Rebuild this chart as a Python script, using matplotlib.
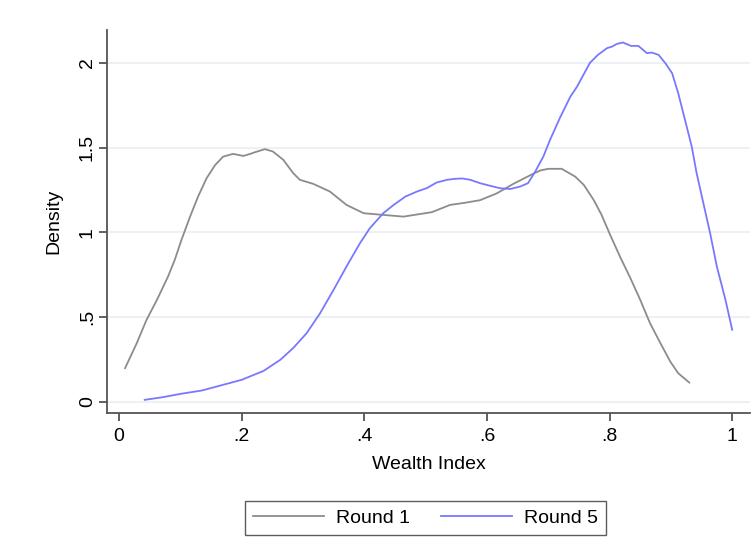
import matplotlib
matplotlib.use("Agg")
import matplotlib.pyplot as plt

plt.rcParams["font.family"] = ["Liberation Sans", "DejaVu Sans"]

# kernel density curves
round1_x = [0.010, 0.029, 0.045, 0.062, 0.080, 0.091, 0.102, 0.116, 0.129, 0.143,
            0.157, 0.170, 0.186, 0.203, 0.214, 0.222, 0.238, 0.251, 0.268, 0.284,
            0.295, 0.317, 0.344, 0.371, 0.399, 0.431, 0.464, 0.510, 0.540, 0.565,
            0.589, 0.616, 0.643, 0.675, 0.687, 0.700, 0.722, 0.744, 0.758, 0.774,
            0.787, 0.801, 0.817, 0.834, 0.850, 0.866, 0.883, 0.899, 0.912, 0.930]
round1_y = [0.199, 0.346, 0.484, 0.602, 0.739, 0.838, 0.956, 1.093, 1.211, 1.320,
            1.398, 1.447, 1.463, 1.451, 1.463, 1.473, 1.491, 1.477, 1.428, 1.350,
            1.310, 1.286, 1.241, 1.162, 1.113, 1.103, 1.093, 1.119, 1.162, 1.175,
            1.190, 1.230, 1.286, 1.345, 1.365, 1.375, 1.375, 1.329, 1.280, 1.192,
            1.103, 0.985, 0.857, 0.730, 0.602, 0.464, 0.346, 0.238, 0.169, 0.114]

round5_x = [0.042, 0.072, 0.100, 0.135, 0.165, 0.200, 0.236, 0.263, 0.284, 0.306,
            0.328, 0.350, 0.371, 0.393, 0.409, 0.431, 0.448, 0.467, 0.486, 0.502,
            0.518, 0.535, 0.548, 0.560, 0.573, 0.589, 0.605, 0.622, 0.638, 0.654,
            0.667, 0.679, 0.692, 0.703, 0.719, 0.736, 0.747, 0.768, 0.781, 0.796,
            0.804, 0.812, 0.822, 0.835, 0.847, 0.861, 0.869, 0.880, 0.891, 0.902,
            0.912, 0.923, 0.934, 0.942, 0.953, 0.964, 0.975, 0.989, 1.000]
round5_y = [0.012, 0.028, 0.047, 0.067, 0.096, 0.130, 0.183, 0.248, 0.317, 0.405,
            0.523, 0.661, 0.798, 0.936, 1.024, 1.113, 1.162, 1.211, 1.241, 1.261,
            1.294, 1.310, 1.316, 1.318, 1.310, 1.290, 1.275, 1.260, 1.256, 1.270,
            1.290, 1.360, 1.447, 1.546, 1.675, 1.800, 1.860, 2.000, 2.047, 2.087,
            2.096, 2.112, 2.120, 2.100, 2.100, 2.057, 2.061, 2.047, 1.998, 1.939,
            1.821, 1.664, 1.506, 1.349, 1.172, 0.995, 0.798, 0.602, 0.425]

xticks = [0, 0.2, 0.4, 0.6, 0.8, 1]
xtick_labels = ["0", ".2", ".4", ".6", ".8", "1"]
yticks = [0, 0.5, 1, 1.5, 2]
ytick_labels = ["0", ".5", "1", "1.5", "2"]

fig = plt.figure(figsize=(7.53, 5.52), dpi=100)
ax = fig.add_axes([0.142, 0.252, 0.854, 0.694])

ax.plot(round1_x, round1_y, color="#8c8c8c", lw=1.3, solid_joinstyle="round",
        label="Round 1")
ax.plot(round5_x, round5_y, color="#7878ff", lw=1.3, solid_joinstyle="round",
        label="Round 5")

ax.set_xlim(-0.0196, 1.029)
ax.set_ylim(-0.065, 2.195)
ax.set_xticks(xticks, xtick_labels)
ax.set_yticks(yticks, ytick_labels, rotation=90, va="center")
ax.tick_params(labelsize=14, length=6, width=1.2, color="#444444")
ax.tick_params(axis="x", pad=5)
ax.tick_params(axis="y", pad=2)
ax.grid(axis="y", color="#e8eff3", lw=1.2)
ax.set_axisbelow(True)
for side in ["top", "right"]:
    ax.spines[side].set_visible(False)
for side in ["left", "bottom"]:
    ax.spines[side].set_color("#555555")
    ax.spines[side].set_linewidth(1.3)

ax.set_xlabel("Wealth Index", fontsize=14, labelpad=8)
ax.set_ylabel("Density", fontsize=14, labelpad=12)

leg = fig.legend(loc="center", bbox_to_anchor=(0.565, 0.0616), ncol=2, fontsize=14,
                 frameon=True, fancybox=False, handlelength=3.65, columnspacing=1.6,
                 handletextpad=0.62, borderpad=0.4)
leg.get_frame().set_edgecolor("#333333")
leg.get_frame().set_linewidth(1.0)

fig.savefig("out.png", dpi=100)
